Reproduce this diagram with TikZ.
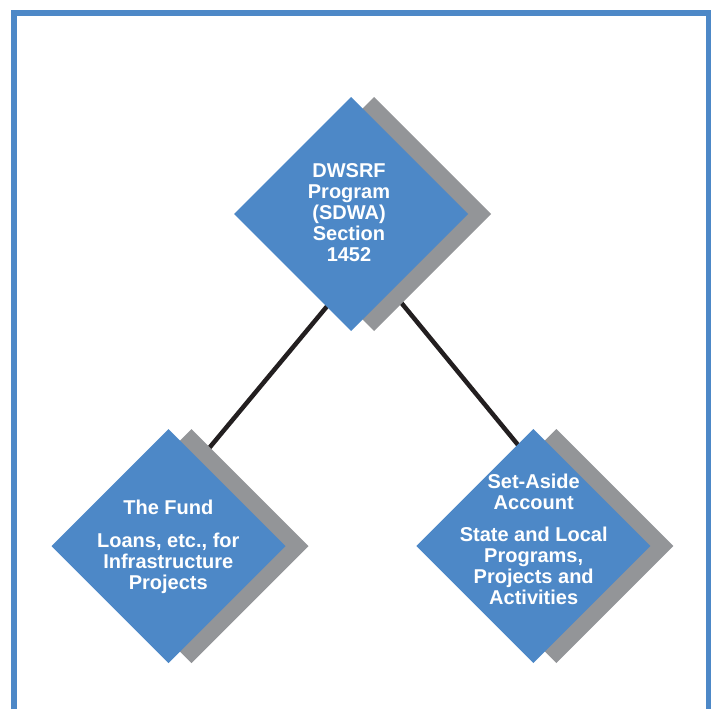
\documentclass[tikz,border=0pt]{standalone}
\usepackage{fontspec}
\setmainfont{Liberation Sans}
\usetikzlibrary{shapes.geometric}
\definecolor{dblue}{HTML}{4D88C7}
\definecolor{dgray}{HTML}{939598}
\definecolor{dline}{HTML}{231F20}
\begin{document}
\begin{tikzpicture}[x=1pt,y=-1pt,
  dia/.style={shape=diamond, minimum width=234pt, minimum height=234pt, inner sep=0pt, outer sep=0pt, fill=dblue, draw=none},
  diashadow/.style={dia, fill=dgray},
  dtext/.style={text=white, align=center, font=\bfseries\fontsize{20}{21}\selectfont, inner sep=0pt},
  link/.style={draw=dline, line width=4.5pt},
  frame/.style={draw=dblue, line width=5.5pt, line join=miter}]
\useasboundingbox (0,0) rectangle (714,709);
% connectors (behind the diamonds)
\coordinate (tl) at (333.1,299.0);
\coordinate (ll) at (205.3,452.7);
\coordinate (tr) at (395.4,295.6);
\coordinate (rr) at (523.0,451.0);
\draw[link] (tl) -- (ll);
\draw[link] (tr) -- (rr);
% shadows
\node[diashadow] (topS) at (374,214) {};
\node[diashadow] (leftS) at (191.5,546) {};
\node[diashadow] (rightS) at (556.3,546) {};
% diamonds
\node[dia] (top) at (351,214) {};
\node[dia] (left) at (168.5,546) {};
\node[dia] (right) at (533.3,546) {};
% texts
\node[dtext] (toptext) at (349,212.2) {DWSRF\\Program\\(SDWA)\\Section\\1452};
\node[dtext] (lefttext) at (168.3,547) {The Fund\\[12pt]Loans, etc., for\\Infrastructure\\Projects};
\node[dtext] (righttext) at (533.7,539.2) {Set-Aside\\Account\\[11pt]State and Local\\Programs,\\Projects and\\Activities};
% frame
\draw[frame] (13.8,709) -- (13.8,13) -- (708.5,13) -- (708.5,709);
\end{tikzpicture}
\end{document}
